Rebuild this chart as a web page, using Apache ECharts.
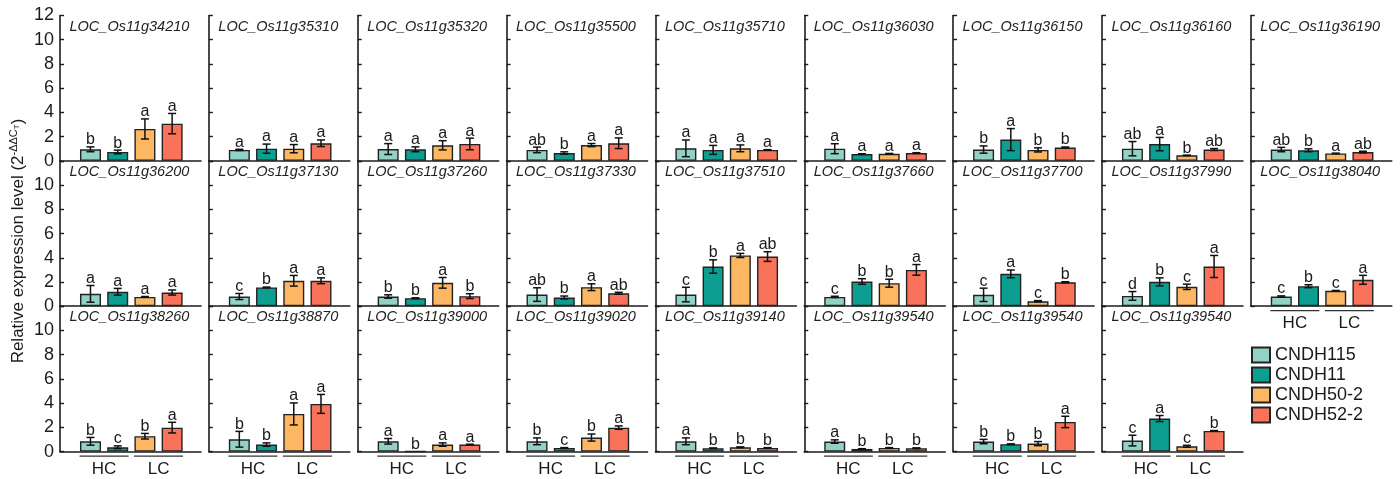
<!DOCTYPE html>
<html>
<head>
<meta charset="utf-8">
<script src="https://cdn.jsdelivr.net/npm/echarts@6/dist/echarts.min.js"></script>
<style>
html,body{margin:0;padding:0;background:#fff;}
#chart{width:1400px;height:479px;}
</style>
</head>
<body>
<div id="chart"></div>
<script>
const genes = ['LOC_Os11g34210','LOC_Os11g35310','LOC_Os11g35320','LOC_Os11g35500','LOC_Os11g35710','LOC_Os11g36030','LOC_Os11g36150','LOC_Os11g36160','LOC_Os11g36190',
  'LOC_Os11g36200','LOC_Os11g37130','LOC_Os11g37260','LOC_Os11g37330','LOC_Os11g37510','LOC_Os11g37660','LOC_Os11g37700','LOC_Os11g37990','LOC_Os11g38040',
  'LOC_Os11g38260','LOC_Os11g38870','LOC_Os11g39000','LOC_Os11g39020','LOC_Os11g39140','LOC_Os11g39540','LOC_Os11g39540','LOC_Os11g39540'];
const genotypes = ['CNDH115','CNDH11','CNDH50-2','CNDH52-2'];
const genotypeColors = ['#92D1C5','#0B9E91','#FDB763','#F8735A'];
const groupLabels = ['HC','LC'];

const meanCNDH115 = [0.95,0.9,0.97,0.9,1.03,1.0,0.93,1.0,0.93, 1.02,0.8,0.8,0.96,0.96,0.77,0.94,0.85,0.8, 0.85,1.02,0.85,0.85,0.85,0.83,0.83,0.91];
const meanCNDH11  = [0.73,1.0,0.95,0.64,0.9,0.56,1.75,1.38,0.87, 1.19,1.55,0.66,0.72,3.28,2.04,2.67,2.01,1.65, 0.36,0.58,0.01,0.3,0.28,0.22,0.61,2.73];
const meanCNDH50  = [2.63,1.0,1.28,1.3,1.03,0.58,0.9,0.45,0.61, 0.77,2.1,1.93,1.57,4.19,1.9,0.41,1.6,1.27, 1.27,3.11,0.58,1.16,0.36,0.3,0.66,0.44];
const meanCNDH52  = [3.07,1.45,1.39,1.45,0.9,0.64,1.1,0.93,0.72, 1.13,2.1,0.83,1.07,4.1,3.0,1.98,3.28,2.18, 1.98,3.94,0.58,1.98,0.3,0.28,2.45,1.71];

const errCNDH115 = [0.2,0.05,0.45,0.23,0.69,0.41,0.3,0.59,0.18, 0.69,0.25,0.14,0.56,0.6,0.05,0.55,0.36,0.05, 0.32,0.65,0.23,0.28,0.28,0.14,0.18,0.44];
const errCNDH11  = [0.15,0.38,0.2,0.1,0.37,0.02,0.91,0.55,0.12, 0.28,0.03,0.03,0.12,0.55,0.23,0.32,0.33,0.12, 0.11,0.14,0,0.03,0.02,0.02,0.03,0.25];
const errCNDH50  = [0.83,0.34,0.38,0.13,0.28,0.03,0.17,0.01,0.02, 0.03,0.44,0.44,0.28,0.17,0.33,0.05,0.22,0.03, 0.23,0.91,0.14,0.29,0.03,0.03,0.17,0.08];
const errCNDH52  = [0.84,0.27,0.48,0.44,0.02,0.03,0.04,0.08,0.07, 0.21,0.24,0.2,0.08,0.4,0.44,0.04,0.91,0.37, 0.44,0.78,0.03,0.14,0.03,0.03,0.47,0.03];

const letCNDH115 = ['b','a','a','ab','a','a','b','ab','ab', 'a','c','b','ab','c','c','c','d','c', 'b','b','a','b','a','a','b','c'];
const letCNDH11  = ['b','a','a','b','a','a','a','a','b', 'a','b','b','b','b','b','a','b','b', 'c','b','b','c','b','b','b','a'];
const letCNDH50  = ['a','a','a','a','a','a','b','b','a', 'a','a','a','a','a','b','c','c','c', 'b','a','a','b','b','b','b','c'];
const letCNDH52  = ['a','a','a','a','a','a','b','ab','ab', 'a','a','b','ab','ab','a','b','a','a', 'a','a','a','a','b','b','a','b'];

const yTicks = [0,2,4,6,8,10,12];

const means = [meanCNDH115, meanCNDH11, meanCNDH50, meanCNDH52];
const errs = [errCNDH115, errCNDH11, errCNDH50, errCNDH52];
const lets = [letCNDH115, letCNDH11, letCNDH50, letCNDH52];

const FONT = '"Liberation Sans", Arial, sans-serif';
const nCols = 9;
const colStep = 148.85, left0 = 60, gridW = 141;
const rowStep = 145.4, top0 = 15.5, gridH = 145.3;
const ink = '#1c1c1c';

const grid = [], xAxis = [], yAxis = [], series = [], title = [];

genes.forEach((gene, p) => {
  const r = Math.floor(p / nCols), c = p % nCols;
  const gl = left0 + colStep * c, gt = top0 + rowStep * r;
  grid.push({left: gl, top: gt, width: gridW, height: gridH});
  xAxis.push({
    gridIndex: p, type: 'value', min: -1.12, max: 4.06,
    axisLine: {show: true, onZero: false, lineStyle: {color: ink, width: 1.6}},
    axisTick: {show: false}, axisLabel: {show: false}, splitLine: {show: false}
  });
  yAxis.push({
    gridIndex: p, type: 'value', min: yTicks[0], max: yTicks[yTicks.length - 1], interval: 2,
    axisLine: {show: true, onZero: false, lineStyle: {color: ink, width: 1.6}},
    axisTick: {show: true, inside: true, length: 4, lineStyle: {color: ink, width: 1.4}},
    axisLabel: {
      show: c === 0, fontSize: 18, color: ink, fontFamily: FONT, margin: 6,
      formatter: v => (r > 0 && v === 12) ? '' : String(v)
    },
    splitLine: {show: false}
  });
  title.push({
    text: gene, left: gl + 9.5, top: gt + 3, padding: 0,
    textStyle: {fontSize: 14.5, fontStyle: 'italic', fontWeight: 'normal', color: '#222', fontFamily: FONT, lineHeight: 16}
  });
  genotypes.forEach((g, k) => {
    series.push({
      name: g, type: 'bar', xAxisIndex: p, yAxisIndex: p,
      data: [[k, means[k][p]]], barWidth: 21, barGap: '-100%',
      itemStyle: {color: genotypeColors[k], borderColor: '#222', borderWidth: 1.4},
      silent: true, animation: false, z: 2
    });
  });
  const pdata = genotypes.map((g, k) => [k, means[k][p], errs[k][p]]);
  series.push({
    type: 'custom', xAxisIndex: p, yAxisIndex: p, data: pdata, z: 5, silent: true, animation: false,
    clip: false, encode: {x: 0, y: 1},
    renderItem: (params, api) => {
      const k = params.dataIndex;
      const x = api.value(0), m = api.value(1), e = api.value(2);
      const top = api.coord([x, m + e]);
      const bot = api.coord([x, Math.max(0, m - e)]);
      const cw = 4;
      const ch = [];
      if (e > 0) {
        const st = {stroke: '#111', lineWidth: 1.5};
        ch.push({type: 'line', shape: {x1: top[0], y1: top[1], x2: bot[0], y2: bot[1]}, style: st});
        ch.push({type: 'line', shape: {x1: top[0] - cw, y1: top[1], x2: top[0] + cw, y2: top[1]}, style: st});
        ch.push({type: 'line', shape: {x1: bot[0] - cw, y1: bot[1], x2: bot[0] + cw, y2: bot[1]}, style: st});
      }
      ch.push({type: 'text', style: {text: lets[k][p], x: top[0], y: top[1] + 1, align: 'center', verticalAlign: 'bottom',
        font: '16px ' + FONT, fill: '#1a1a1a'}});
      return {type: 'group', children: ch};
    }
  });
  const isBottom = (p + nCols >= genes.length);
  if (isBottom) {
    series.push({
      type: 'custom', xAxisIndex: p, yAxisIndex: p, data: [[0.5, 0], [2.5, 0]], z: 5, silent: true, animation: false,
      clip: false, encode: {x: 0, y: 1},
      renderItem: (params, api) => {
        const x = api.value(0);
        const a = api.coord([x - 0.9, 0]), b = api.coord([x + 0.9, 0]);
        const mid = api.coord([x, 0]);
        return {type: 'group', children: [
          {type: 'line', shape: {x1: a[0], y1: a[1] + 4.5, x2: b[0], y2: b[1] + 4.5}, style: {stroke: '#333', lineWidth: 1.2}},
          {type: 'text', style: {text: groupLabels[params.dataIndex], x: mid[0], y: mid[1] + 17.5, align: 'center', verticalAlign: 'middle',
            font: '17px ' + FONT, fill: '#1a1a1a'}}
        ]};
      }
    });
  }
});

const chart = echarts.init(document.getElementById('chart'), null, {renderer: 'canvas'});
chart.setOption({
  backgroundColor: '#fff',
  animation: false,
  textStyle: {fontFamily: FONT},
  title, grid, xAxis, yAxis, series,
  legend: {
    data: genotypes, orient: 'vertical', left: 1251, top: 346, padding: 0,
    itemWidth: 18, itemHeight: 15, itemGap: 2, icon: 'rect', selectedMode: false,
    textStyle: {fontSize: 18, color: '#1a1a1a', fontFamily: FONT, lineHeight: 15}
  },
  graphic: [{
    type: 'text', x: 18, y: 241, rotation: Math.PI / 2,
    style: {
      text: '{a|Relative expression level (2}{s|-ΔΔC}{t|T}{a|)}',
      align: 'center', verticalAlign: 'middle',
      rich: {
        a: {fontSize: 17, fontFamily: FONT, fill: '#1a1a1a', lineHeight: 20},
        s: {fontSize: 11, fontFamily: FONT, fill: '#1a1a1a', verticalAlign: 'top', lineHeight: 20},
        t: {fontSize: 8, fontFamily: FONT, fill: '#1a1a1a', verticalAlign: 'top', lineHeight: 20, padding: [5, 0, 0, 0]}
      }
    }
  }]
});
</script>
</body>
</html>
